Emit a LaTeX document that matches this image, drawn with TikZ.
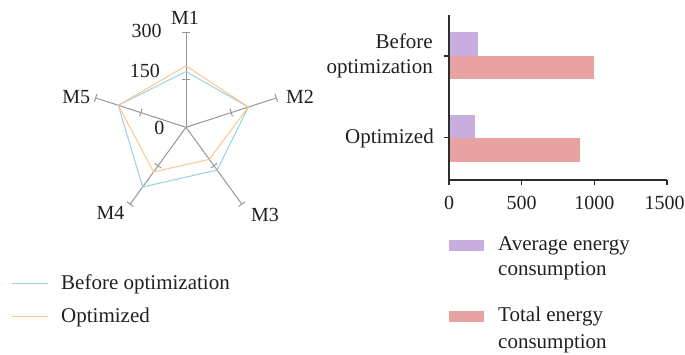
\documentclass[tikz,border=0pt]{standalone}
\usepackage{fontspec}
\setmainfont{Liberation Serif}
\usetikzlibrary{positioning}
\definecolor{textDark}{RGB}{35,31,32}
\definecolor{axisGray}{RGB}{150,150,150}
\definecolor{axisDark}{RGB}{45,45,45}
\definecolor{lineBlue}{RGB}{150,210,228}
\definecolor{lineOrange}{RGB}{255,196,142}
\definecolor{barPurple}{RGB}{199,174,222}
\definecolor{barRed}{RGB}{232,162,161}
\newcommand{\radarunit}{0.31667}
\newcommand{\radartick}[2]{%
  \draw[axisGray, line width=1pt] ({#1}:#2) ++({#1+90}:4) -- ++({#1-90}:8);}
\tikzset{
  lbl/.style={font=\fontsize{21}{25}\selectfont, text=textDark, inner sep=0pt},
  numlbl/.style={font=\fontsize{20}{24}\selectfont, text=textDark, inner sep=0pt},
}

\begin{document}
\begin{tikzpicture}[x=1pt, y=-1pt]
  \useasboundingbox (0,0) rectangle (685,355);
  \begin{scope}[shift={(186,127.3)}, yscale=-1]
    \foreach \a in {90,18,-54,-126,162}{
      \draw[axisGray, line width=1pt] (0,0) -- (\a:95);
      \radartick{\a}{47.5}
      \radartick{\a}{95}
    }
    \draw[lineBlue, line width=1pt, line join=miter]
      (90:{176*\radarunit}) -- (18:{207*\radarunit}) -- (-54:{167*\radarunit})
      -- (-126:{233*\radarunit}) -- (162:{225*\radarunit}) -- cycle;
    \draw[lineOrange, line width=1pt, line join=miter]
      (90:{194*\radarunit}) -- (18:{207*\radarunit}) -- (-54:{125*\radarunit})
      -- (-126:{174*\radarunit}) -- (162:{225*\radarunit}) -- cycle;
  \end{scope}
  \node[numlbl] (m1) at (185,18) {M1};
  \node[numlbl] (m2) at (300,96.7) {M2};
  \node[numlbl] (m3) at (265,214.7) {M3};
  \node[numlbl] (m4) at (110.5,213) {M4};
  \node[numlbl] (m5) at (76.3,96.7) {M5};
  \node[numlbl, anchor=base east] (r300) at (161.7,37.7) {300};
  \node[numlbl, anchor=base east] (r150) at (160,77.3) {150};
  \node[numlbl, anchor=base] (r0) at (159.3,135) {0};

  \draw[lineBlue, line width=1pt] (12,283.3) -- (47.7,283.3);
  \node[lbl, anchor=base west] (lgbefore) at (61,289.3) {Before optimization};
  \draw[lineOrange, line width=1pt] (12,316.7) -- (47.7,316.7);
  \node[lbl, anchor=base west] (lgopt) at (61,322.7) {Optimized};

  \fill[barPurple] (449,32.3) rectangle (478.1,55.7);
  \fill[barRed] (449,55.7) rectangle (594.3,79.3);
  \fill[barPurple] (449,115) rectangle (475.2,137.7);
  \fill[barRed] (449,137.7) rectangle (579.8,161.7);
  \draw[axisDark, line width=1.3pt] (449,15) -- (449,180) -- (667,180);
  \foreach \x in {449,521.7,594.3,667}
    \draw[axisDark, line width=1.1pt] (\x,180) -- (\x,185);
  \foreach \x/\v in {449/0,521.7/500,594.3/1000,664.5/1500}
    \node[numlbl, anchor=base] (t\v) at (\x,210) {\v};
  \draw[axisDark, line width=1.1pt] (443.5,56) -- (449,56);
  \draw[axisDark, line width=1.1pt] (443.5,137.7) -- (449,137.7);
  \node[lbl, anchor=base east] (catbefore) at (433,49) {Before};
  \node[lbl, anchor=base east] (catbefore2) at (433,73.3) {optimization};
  \node[lbl, anchor=base east] (catopt) at (434,144) {Optimized};

  \fill[barPurple] (449,240) rectangle (484,250.7);
  \node[lbl, anchor=base west] (lgavg) at (498,250.7) {Average energy};
  \node[lbl, anchor=base west] (lgavg2) at (498,276) {consumption};
  \fill[barRed] (449,310.7) rectangle (484,321.7);
  \node[lbl, anchor=base west] (lgtot) at (498,321.7) {Total energy};
  \node[lbl, anchor=base west] (lgtot2) at (498,348) {consumption};
\end{tikzpicture}
\end{document}
